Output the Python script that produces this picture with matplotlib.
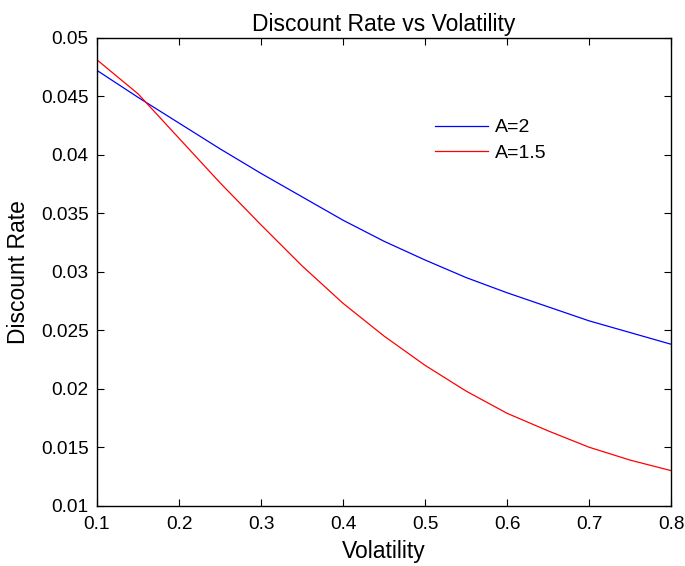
import matplotlib
matplotlib.use("Agg")
import matplotlib.pyplot as plt

plt.rcParams['font.family'] = ['Liberation Sans', 'DejaVu Sans']

# volatility grid and discount rates
vol = [0.10, 0.15, 0.20, 0.25, 0.30, 0.35, 0.40, 0.45, 0.50, 0.55, 0.60, 0.65, 0.70, 0.75, 0.80]
rate_a2 = [0.0472, 0.0449, 0.0427, 0.0405, 0.0384, 0.0364, 0.0344, 0.0326, 0.0310,
           0.0295, 0.0282, 0.0270, 0.0258, 0.0248, 0.0238]
rate_a15 = [0.0481, 0.0452, 0.0414, 0.0376, 0.0340, 0.0305, 0.0273, 0.0245, 0.0220,
            0.0198, 0.0179, 0.0164, 0.0150, 0.0139, 0.0130]

fig = plt.figure(figsize=(6.85, 5.66), dpi=100)
ax = fig.add_axes([0.1416, 0.1065, 0.838, 0.827])

ax.plot(vol, rate_a2, color='blue', linewidth=0.9, label='A=2')
ax.plot(vol, rate_a15, color='red', linewidth=0.9, label='A=1.5')

ax.set_xlim(0.1, 0.8)
ax.set_ylim(0.01, 0.05)
ax.set_xticks([0.1, 0.2, 0.3, 0.4, 0.5, 0.6, 0.7, 0.8])
ax.set_yticks([0.01, 0.015, 0.02, 0.025, 0.03, 0.035, 0.04, 0.045, 0.05])
ax.set_xticklabels(['0.1', '0.2', '0.3', '0.4', '0.5', '0.6', '0.7', '0.8'])
ax.set_yticklabels(['0.01', '0.015', '0.02', '0.025', '0.03', '0.035', '0.04', '0.045', '0.05'])
ax.tick_params(direction='in', top=True, right=True, length=5, width=0.8, labelsize=13.7)
ax.tick_params(axis='x', pad=7.5)
ax.tick_params(axis='y', pad=6)
for s in ax.spines.values():
    s.set_linewidth(1.0)

ax.set_title('Discount Rate vs Volatility', fontsize=16.5, pad=4.5)
ax.set_xlabel('Volatility', fontsize=16.5, labelpad=5)
ax.set_ylabel('Discount Rate', fontsize=16.5, labelpad=8)

ax.legend(loc='upper left', bbox_to_anchor=(0.558, 0.864), frameon=False, fontsize=14,
          handlelength=2.73, handletextpad=0.36, labelspacing=0.4)

fig.savefig('out.png', dpi=100)
